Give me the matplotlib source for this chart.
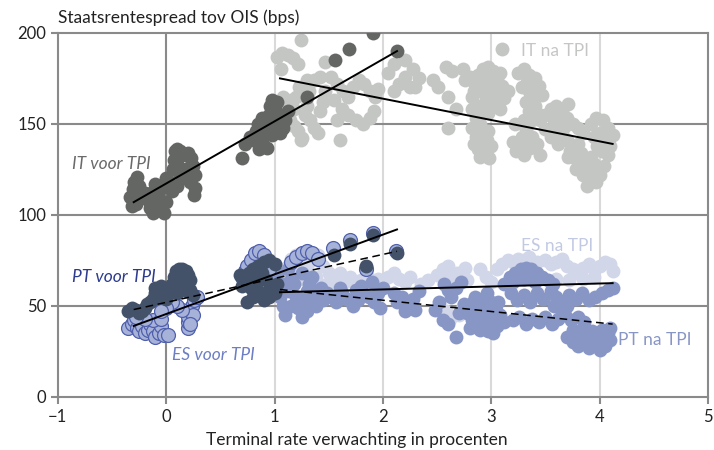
import numpy as np
import matplotlib.pyplot as plt

plt.rcParams['font.family'] = ['Lato', 'DejaVu Sans']

# IT voor TPI (donkergrijs)
it_voor = [(-0.33,110),(-0.31,114),(-0.3,118),(-0.27,121),(-0.25,116),(-0.28,106),(-0.32,105),
           (-0.24,110),(-0.2,112),(-0.17,108),(-0.15,104),(-0.12,101),(-0.1,106),(-0.08,110),
           (-0.05,104),(-0.02,101),(0.0,107),(-0.06,114),(-0.1,117),(-0.14,112),
           (0.0,120),(0.03,118),(0.06,125),(0.07,130),(0.08,135),(0.1,136),(0.13,135),(0.15,133),
           (0.18,133),(0.2,134),(0.23,131),(0.1,128),(0.12,123),(0.15,120),(0.18,125),(0.2,122),
           (0.22,118),(0.25,127),(0.27,122),(0.27,115),(0.26,111),(0.05,113),(0.1,116),
           (0.7,131),(0.73,139),(0.77,143),(0.8,141),(0.83,146),(0.86,136),(0.88,140),(0.9,145),
           (0.85,150),(0.88,153),(0.92,150),(0.95,155),(0.96,160),(0.98,163),(1.0,158),(1.02,162),
           (1.03,155),(1.06,150),(1.08,148),(1.1,152),(0.93,137),(0.98,144),(1.0,148),(1.05,145),
           (1.12,157),(1.3,165),(1.56,185),(1.69,191),(1.91,200),(2.13,190)]

# IT na TPI (lichtgrijs)
it_na = [(1.02,187),(1.07,189),(1.12,188),(1.17,186),(1.22,183),(1.24,196),(1.06,180),(1.47,184),
         (1.36,174),(1.42,176),(1.3,174),(1.08,165),(1.12,160),(1.15,163),(1.18,158),(1.2,165),
         (1.23,170),(1.26,166),(1.1,155),(1.14,152),(1.18,149),(1.22,146),(1.25,142),(1.28,155),
         (1.3,160),(1.33,152),(1.36,148),(1.4,145),(1.42,157),(1.45,162),(1.32,168),(1.47,168),
         (1.24,141),(1.6,141),
         (1.52,176),(1.58,172),(1.63,168),(1.68,165),(1.72,170),(1.78,174),(1.83,172),(1.88,168),
         (1.93,165),(1.55,163),(1.62,158),(1.68,155),(1.75,152),(1.82,150),(1.88,153),(1.92,157),
         (1.58,152),(1.95,169),
         (2.05,178),(2.1,183),(2.2,185),(2.28,180),(2.33,175),(2.15,172),(2.25,170),(2.1,168),
         (2.2,176),(2.3,170),(2.46,174),(2.51,170),(2.58,181),(2.64,179),(2.74,180),(2.76,174),
         (2.6,165),(2.67,158),(2.6,148),(3.1,191),
         (2.82,165),(2.85,172),(2.88,177),(2.92,180),(2.97,181),(3.02,179),(3.05,175),(3.1,171),
         (3.15,168),(2.9,168),(2.95,163),(3.0,160),(3.05,165),(2.88,160),(2.82,158),(3.08,158),
         (2.98,170),(2.93,174),(2.86,176),(2.95,177),(3.0,174),(3.08,178),(2.84,168),(2.92,171),
         (3.02,168),(3.12,164),(2.8,176),(2.9,155),(2.97,156),
         (2.82,148),(2.86,143),(2.9,150),(2.93,140),(2.95,135),(2.97,146),(3.0,138),(2.9,132),
         (2.98,131),(2.86,153),(2.84,139),(2.92,145),(2.96,141),(2.88,136),
         (3.2,140),(3.23,135),(3.28,143),(3.33,140),(3.38,143),(3.42,139),(3.45,133),(3.3,133),
         (3.25,178),(3.3,180),(3.35,177),(3.4,175),(3.44,171),(3.47,166),(3.35,168),(3.32,162),
         (3.35,157),(3.38,152),(3.3,152),(3.4,160),(3.28,170),(3.22,150),(3.33,173),(3.38,165),
         (3.42,156),(3.32,147),(3.36,137),(3.26,138),
         (3.45,152),(3.5,155),(3.55,158),(3.6,160),(3.65,157),(3.7,153),(3.75,150),(3.8,148),
         (3.85,145),(3.5,147),(3.55,143),(3.6,148),(3.65,145),(3.7,141),(3.8,139),(3.71,161),
         (3.58,152),(3.68,149),(3.62,139),
         (3.92,150),(3.97,153),(4.03,152),(4.08,148),(4.12,144),(4.0,145),(3.95,143),
         (3.73,135),(3.77,131),(3.82,128),(3.86,130),(3.9,125),(3.93,120),(3.97,118),(4.0,122),
         (4.04,127),(4.08,133),(4.1,138),(3.85,122),(3.88,116),(3.95,128),(4.02,135),(3.71,132),
         (3.78,125),(3.92,132),(3.98,138),(4.05,140),(3.83,134)]

# PT voor TPI (donkerblauw)
pt_voor = [(-0.35,47),(-0.32,49),(-0.28,48),(-0.25,46),(-0.22,47),(-0.2,49),(-0.18,51),(-0.15,52),
           (-0.12,54),(-0.1,57),(-0.08,55),(-0.05,58),(-0.02,56),(0.0,54),(0.03,57),(0.05,62),
           (0.07,66),(0.09,69),(0.12,70),(0.15,70),(0.18,69),(0.2,67),(0.22,64),(0.08,60),
           (0.12,63),(0.16,61),(0.19,58),(0.22,59),(0.25,56),(0.1,57),(0.14,65),(-0.05,61),
           (-0.1,60),
           (0.68,67),(0.72,65),(0.76,68),(0.8,70),(0.85,72),(0.9,74),(0.95,75),(1.0,73),(0.88,68),
           (0.92,64),(0.96,60),(1.0,57),(0.85,58),(0.8,55),(0.75,52),(0.9,53),(0.95,55),(1.02,62),
           (0.83,63),(0.78,60),(0.7,61),
           (1.55,78),(1.7,84),(1.84,72),(1.91,89),(2.13,79)]

# ES voor TPI (lichtblauw met rand)
es_voor = [(-0.35,38),(-0.32,40),(-0.3,42),(-0.27,38),(-0.25,36),(-0.22,39),(-0.2,35),(-0.17,37),
           (-0.15,40),(-0.12,36),(-0.1,33),(-0.07,35),(-0.05,39),(-0.02,34),(0.02,34),(-0.12,42),
           (-0.2,43),(-0.28,44),(-0.05,43),
           (0.2,38),(0.2,41),(0.2,44),(0.22,47),(0.24,50),(0.26,53),(0.28,55),(0.25,45),(0.22,40),
           (0.15,48),(0.1,50),(0.05,52),(0.0,49),(-0.05,47),
           (0.7,66),(0.73,69),(0.75,72),(0.78,75),(0.82,79),(0.86,80),(0.9,78),(0.78,64),
           (0.84,67),(0.95,70),
           (1.15,74),(1.2,77),(1.25,79),(1.3,80),(1.35,79),(1.4,76),(1.54,82),(1.7,86),(1.91,90),
           (1.84,70),(2.12,80)]

# PT na TPI
pt_na = [(1.02,68),(1.05,62),(1.05,55),(1.08,50),(1.1,45),(1.13,58),(1.15,65),(1.18,62),(1.2,55),
         (1.22,49),(1.25,44),(1.28,52),(1.3,58),(1.32,62),(1.35,55),(1.38,50),(1.4,57),(1.43,60),
         (1.45,53),(1.48,57),(1.12,70),(1.25,68),(1.35,66),(1.15,50),(1.3,47),(1.1,62),
         (1.52,55),(1.57,52),(1.62,57),(1.67,54),(1.72,50),(1.77,53),(1.82,57),(1.87,55),
         (1.92,52),(1.97,49),(1.6,60),(1.75,59),(1.8,61),(1.9,63),(2.0,60),(1.95,57),
         (2.1,57),(2.13,52),(2.18,55),(2.23,50),(2.28,54),(2.33,58),(2.2,47),(2.3,48),
         (2.48,48),(2.52,52),(2.56,62),(2.6,59),(2.63,55),(2.67,60),(2.72,63),(2.55,42),
         (2.6,40),(2.67,33),(2.7,46),(2.75,51),
         (2.78,46),(2.82,42),(2.86,40),(2.9,44),(2.93,38),(2.97,36),(3.0,41),(3.05,39),(2.88,50),
         (2.92,54),(2.96,57),(3.0,52),(3.04,48),(3.08,45),(2.83,52),(2.85,55),(2.8,38),
         (2.9,37),(3.02,35),(2.84,47),(2.95,47),(3.06,52),(3.12,41),
         (3.12,62),(3.17,66),(3.22,68),(3.27,70),(3.32,71),(3.37,70),(3.42,68),(3.47,66),
         (3.52,64),(3.57,62),(3.2,63),(3.3,65),(3.4,63),(3.35,67),(3.25,66),
         (3.18,57),(3.24,53),(3.3,56),(3.36,52),(3.42,57),(3.48,54),(3.55,58),(3.6,55),(3.66,52),
         (3.72,56),(3.78,54),(3.84,57),(3.9,53),(3.96,55),(4.02,57),(4.08,59),(4.12,60),
         (3.2,42),(3.26,44),(3.32,40),(3.38,43),(3.44,41),(3.5,44),(3.56,40),(3.62,43),(3.68,45),
         (3.74,42),(3.8,44),(3.86,41),(3.65,48),(3.58,50),(3.7,50),
         (3.7,33),(3.75,30),(3.8,28),(3.85,31),(3.9,27),(3.95,29),(4.0,26),(4.05,28),(4.1,31),
         (4.08,35),(4.02,37),(3.93,36),(3.82,36),(3.75,37),(3.88,33),(3.98,33),(4.1,38)]

# ES na TPI
es_na = [(1.05,60),(1.08,66),(1.12,72),(1.15,76),(1.2,78),(1.25,74),(1.3,72),(1.35,75),(1.4,78),
         (1.45,72),(1.5,68),(1.18,68),(1.28,64),(1.38,66),(1.48,62),
         (1.55,65),(1.6,68),(1.65,63),(1.7,66),(1.75,62),(1.8,64),(1.85,67),(1.9,62),(1.95,65),
         (2.0,64),(2.05,66),(2.1,68),(2.15,65),(2.2,63),(2.25,66),(2.35,62),(2.42,64),(2.5,67),
         (2.57,70),(2.62,66),(2.55,70),(2.6,72),(2.68,68),(2.76,71),(2.78,64),
         (2.58,47),(2.62,43),(2.7,45),(2.74,50),
         (3.05,70),(3.1,73),(3.15,75),(3.2,74),(3.25,76),(3.3,75),(3.35,77),(3.42,74),(3.5,75),
         (3.55,73),(3.6,74),(3.65,76),(3.7,72),(3.75,70),(3.8,68),(3.85,71),(3.9,73),(3.95,70),
         (4.0,72),(4.05,74),(4.1,73),(4.12,69),(3.95,66),(3.85,65),(3.72,64),(3.6,65),(3.45,66),
         (2.9,70),(2.95,66),(3.0,63)]

# regressielijnen: (x0, y0, x1, y1)
trend_it_voor = (-0.3, 107, 2.13, 190)
trend_it_na = (1.05, 175, 4.12, 139)
trend_es_voor = (-0.3, 39, 2.13, 92)
trend_pt_voor = (-0.3, 48, 2.13, 80)
trend_es_na = (1.05, 57.5, 4.12, 62.5)
trend_pt_na = (1.05, 59, 4.12, 40)

fig = plt.figure(figsize=(7.14, 4.5), dpi=100)
ax = fig.add_axes([0.081, 0.118, 0.9106, 0.8089])

ax.set_xlim(-1, 5)
ax.set_ylim(0, 200)

# rasterlijnen
for xv in [1, 2, 3, 4]:
    ax.axvline(xv, color='#d9d9d9', lw=1.5, zorder=0)
ax.axvline(0, color='#8a8a8a', lw=1.5, zorder=0)
for yv in [50, 100, 150]:
    ax.axhline(yv, color='#8a8a8a', lw=1.5, zorder=0)

def pts(lst):
    a = np.array(lst)
    return a[:, 0], a[:, 1]

s = 100
x, y = pts(it_na)
ax.scatter(x, y, s=s, color='#c4c6c4', lw=0, zorder=2)
x, y = pts(it_voor)
ax.scatter(x, y, s=s, color='#646664', lw=0, zorder=3)
x, y = pts(es_na)
ax.scatter(x, y, s=s, color='#d1d6e8', lw=0, zorder=2)
x, y = pts(pt_na)
ax.scatter(x, y, s=s, color='#8896c6', lw=0, zorder=3)
x, y = pts(es_voor)
ax.scatter(x, y, s=s, color='#a7b2d9', edgecolors='#5060ad', lw=0.9, zorder=4)
x, y = pts(pt_voor)
ax.scatter(x, y, s=s, color='#435269', lw=0, zorder=5)

for t in [trend_it_voor, trend_it_na, trend_es_voor, trend_es_na]:
    ax.plot([t[0], t[2]], [t[1], t[3]], color='black', lw=1.4, zorder=6)
for t in [trend_pt_voor, trend_pt_na]:
    ax.plot([t[0], t[2]], [t[1], t[3]], color='black', lw=1.1, ls=(0, (5, 3)), zorder=6)

# labels
fs = 12.5
ax.text(-0.87, 128, 'IT voor TPI', color='#6a6a6a', style='italic', fontsize=fs, va='center')
ax.text(3.27, 190, 'IT na TPI', color='#c4c6c4', fontsize=fs, va='center')
ax.text(-0.87, 66, 'PT voor TPI', color='#2d3b8e', style='italic', fontsize=fs, va='center')
ax.text(0.05, 23, 'ES voor TPI', color='#6d7ec4', style='italic', fontsize=fs, va='center')
ax.text(3.27, 83, 'ES na TPI', color='#c2c9e3', fontsize=fs, va='center')
ax.text(4.17, 31, 'PT na TPI', color='#8896c6', fontsize=fs, va='center')

ax.set_xticks([-1, 0, 1, 2, 3, 4, 5])
ax.set_xticklabels(['\u22121', '0', '1', '2', '3', '4', '5'])
ax.set_yticks([0, 50, 100, 150, 200])
ax.tick_params(axis='both', length=5, width=1.5, color='#8a8a8a', labelsize=12, labelcolor='#222222')
for sp in ax.spines.values():
    sp.set_color('#8a8a8a')
    sp.set_linewidth(1.5)

fig.text(0.5, 0.022, 'Terminal rate verwachting in procenten', fontsize=12.5, color='#222222',
         ha='center', va='center')
fig.text(0.081, 0.96, 'Staatsrentespread tov OIS (bps)', fontsize=12.5, color='#222222', va='center')

fig.savefig('out.png', dpi=100)
